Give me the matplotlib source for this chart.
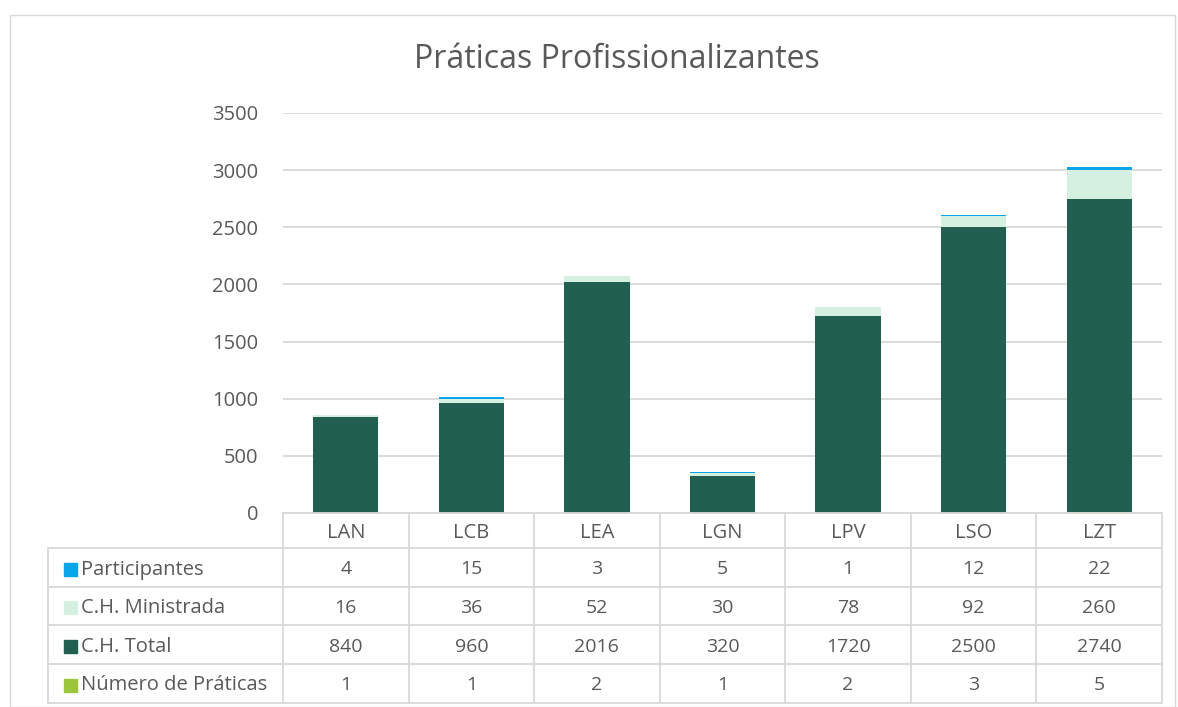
import matplotlib.pyplot as plt
from matplotlib.patches import Rectangle

categorias = ["LAN", "LCB", "LEA", "LGN", "LPV", "LSO", "LZT"]
participantes = [4, 15, 3, 5, 1, 12, 22]
ch_ministrada = [16, 36, 52, 30, 78, 92, 260]
ch_total = [840, 960, 2016, 320, 1720, 2500, 2740]
num_praticas = [1, 1, 2, 1, 2, 3, 5]

series = [
    ("Participantes", participantes, "#0AA4E8"),
    ("C.H. Ministrada", ch_ministrada, "#D5F0E1"),
    ("C.H. Total", ch_total, "#216051"),
    ("Número de Práticas", num_praticas, "#9BC53D"),
]

plt.rcParams['font.family'] = ['Open Sans', 'DejaVu Sans']
txt = "#595959"
linha = "#D9D9D9"

W, H = 1178, 707
fig = plt.figure(figsize=(W / 100, H / 100), dpi=100)
fig.patches.append(Rectangle((10 / W, 0), (1175 - 10) / W, 1 - 15 / H, transform=fig.transFigure,
                             fill=False, edgecolor=linha, lw=1))

x0, x1, y0, y1 = 283, 1162, 513, 113
ax = fig.add_axes([x0 / W, 1 - y0 / H, (x1 - x0) / W, (y0 - y1) / H])

x = list(range(len(categorias)))
base = [0] * len(categorias)
# empilhado de baixo para cima
for nome, vals, cor in reversed(series):
    ax.bar(x, vals, 0.52, bottom=base, color=cor, zorder=3)
    base = [b + v for b, v in zip(base, vals)]

ax.set_xlim(-0.5, len(categorias) - 0.5)
ax.set_ylim(0, 3500)
ax.set_yticks(range(0, 3501, 500))
ax.tick_params(axis='y', length=0, labelsize=14.5, labelcolor=txt, pad=18)
ax.set_xticks([])
ax.grid(axis='y', color=linha, lw=1.3, zorder=0)
for s in ['top', 'right', 'left']:
    ax.spines[s].set_visible(False)
ax.spines['bottom'].set_color(linha)
ax.spines['bottom'].set_linewidth(1.3)

fig.text(617 / W, 1 - 60 / H, "Práticas Profissionalizantes", ha='center', va='center',
         fontsize=23, color=txt)

# tabela de dados
def fy(p):
    return 1 - p / H

def fx(p):
    return p / W

rows_y = [513, 548, 587, 625, 664, 703]
col_w = (x1 - x0) / len(categorias)
col_x = [x0 + i * col_w for i in range(len(categorias) + 1)]
tl = 48
kw = dict(color=linha, lw=1.3, transform=fig.transFigure)
fig.add_artist(plt.Line2D([fx(x0), fx(x1)], [fy(513), fy(513)], **kw))
for yy in rows_y[1:]:
    fig.add_artist(plt.Line2D([fx(tl), fx(x1)], [fy(yy), fy(yy)], **kw))
for xx in col_x:
    fig.add_artist(plt.Line2D([fx(xx), fx(xx)], [fy(513), fy(703)], **kw))
fig.add_artist(plt.Line2D([fx(tl), fx(tl)], [fy(548), fy(703)], **kw))

for i, c in enumerate(categorias):
    cx = (col_x[i] + col_x[i + 1]) / 2
    fig.text(fx(cx), fy((rows_y[0] + rows_y[1]) / 2 + 2), c, ha='center', va='center',
             fontsize=14.5, color=txt)
for r, (nome, vals, cor) in enumerate(series):
    yc = (rows_y[r + 1] + rows_y[r + 2]) / 2 + 2
    fig.patches.append(Rectangle((fx(64), fy(yc + 6)), 13 / W, 13 / H, transform=fig.transFigure,
                                 color=cor))
    fig.text(fx(81), fy(yc), nome, ha='left', va='center', fontsize=14.5, color=txt)
    for i, v in enumerate(vals):
        cx = (col_x[i] + col_x[i + 1]) / 2
        fig.text(fx(cx), fy(yc), str(v), ha='center', va='center', fontsize=14, color=txt)

fig.savefig("out.png", dpi=100)
